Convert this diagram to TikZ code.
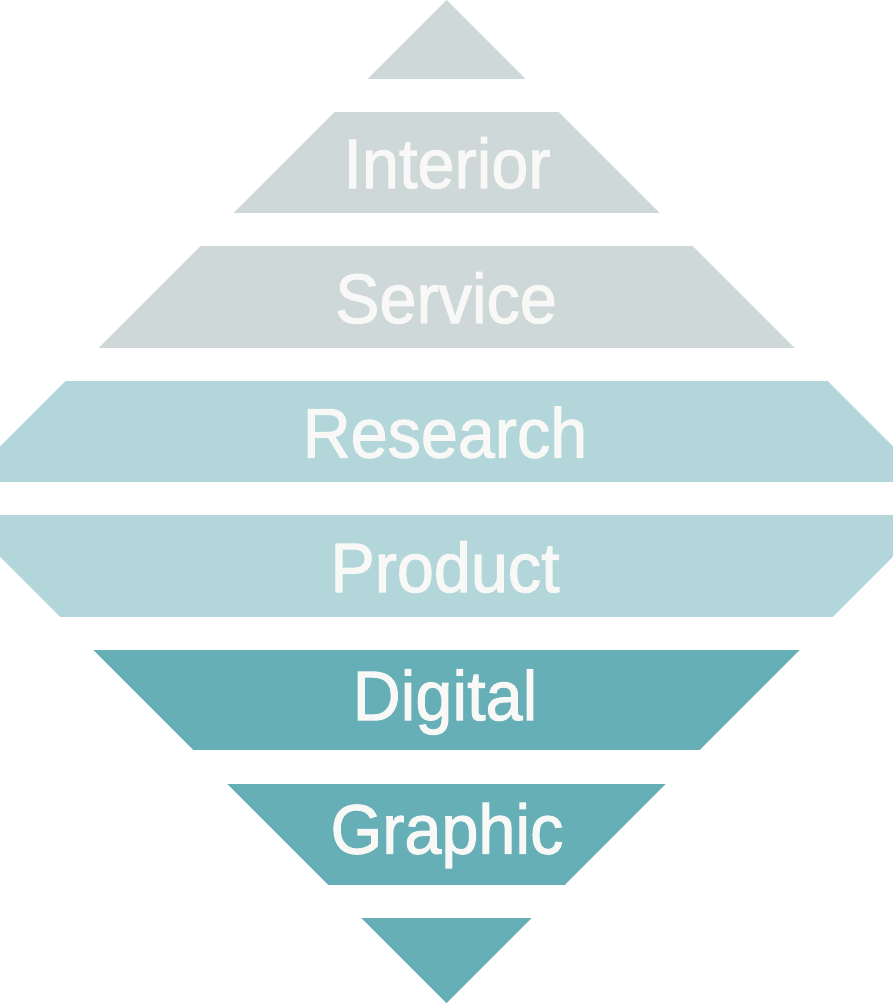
\documentclass[tikz,border=0pt]{standalone}
\usepackage{fontspec}
\setmainfont{Liberation Sans}
\newfontfamily\lblfont[FakeBold=1.6]{Liberation Sans}
\definecolor{cgray}{HTML}{CFD8D9}
\definecolor{clight}{HTML}{B3D6DA}
\definecolor{cteal}{HTML}{66AFB6}
\definecolor{ctext}{HTML}{F8F8F6}
\begin{document}
\begin{tikzpicture}[x=1pt,y=-1pt,
  lbl/.style={text=ctext,inner sep=0pt,anchor=center,font=\lblfont\fontsize{70}{70}\selectfont}]
\useasboundingbox (0,0) rectangle (893,1003);
\begin{scope}
  \clip (0,0) rectangle (893,1003);
  \clip (446.5,0) -- (948,501.5) -- (446.5,1003) -- (-55,501.5) -- cycle;
  \fill[cgray] (0,0) rectangle (893,79);
  \fill[cgray] (0,112) rectangle (893,213);
  \fill[cgray] (0,246) rectangle (893,348);
  \fill[clight] (0,381) rectangle (893,482);
  \fill[clight] (0,515) rectangle (893,617);
  \fill[cteal] (0,650) rectangle (893,750);
  \fill[cteal] (0,784) rectangle (893,885);
  \fill[cteal] (0,918) rectangle (893,1003);
\end{scope}
\node[lbl] (interior) at (447,163) {\scalebox{0.95}[1]{\vphantom{I}Interior}};
\node[lbl] (service) at (446,298) {\scalebox{0.95}[1]{\vphantom{I}Service}};
\node[lbl] (research) at (445,432.5) {\scalebox{0.95}[1]{\vphantom{I}Research}};
\node[lbl] (product) at (445,567) {\scalebox{0.95}[1]{\vphantom{I}Product}};
\node[lbl] (digital) at (445,702) {\scalebox{0.95}[1]{\vphantom{I}Digital}};
\node[lbl] (graphic) at (447,835.5) {\scalebox{0.95}[1]{\vphantom{I}Graphic}};
\end{tikzpicture}
\end{document}
